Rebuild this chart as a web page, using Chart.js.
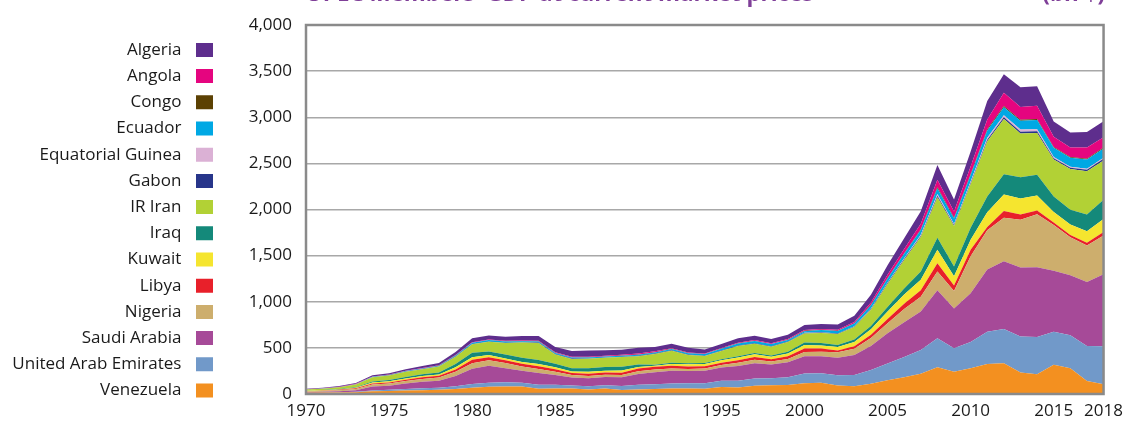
<!DOCTYPE html>
<html>
<head>
<meta charset="utf-8">
<script src="https://cdn.jsdelivr.net/npm/chart.js@4.4.1/dist/chart.umd.min.js"></script>
<style>
  html, body { margin: 0; padding: 0; background: #ffffff; overflow: hidden; }
  #wrap { position: relative; width: 1130px; height: 426px; overflow: hidden; }
  #c { position: absolute; left: 0; top: 0; }
  .ttl { position: absolute; top: -18px; font-family: 'Open Sans', sans-serif; font-weight: 700; font-size: 22.4px; line-height: 22px; color: #7f3f98; white-space: nowrap; }
</style>
</head>
<body>
<div id="wrap">
  <canvas id="c" width="1130" height="426"></canvas>
  <div class="ttl" style="left:305px;">OPEC Members' GDP at current market prices</div>
  <div class="ttl" style="right:25px;">(bn $)</div>
</div>
<script>
const years = [];
for (let y = 1970; y <= 2018; y++) years.push(String(y));

const yTicks = [0, 500, 1000, 1500, 2000, 2500, 3000, 3500, 4000];

// values in bn $, 1970..2018
const venezuela = [13.5,15,16,20,29,32,37,42,47,55, 69,78,80,80,58,60,60,49,60,44, 49,53,60,60,58,77,70,89,96,98, 117,123,93,83,112,150,181,220,289,242, 280,325,333,232,215,318,278,140,105];
const uae = [1,1.5,2.5,4,10,13,16,20,22,30, 40,45,47,43,42,41,33,36,36,42, 51,52,54,56,59,66,74,79,76,84, 104,103,110,124,148,180,220,258,315,254, 285,350,372,390,402,358,360,380,412];
const saudiArabia = [5.4,7,12,18,43,45,60,70,75,111, 165,182,153,129,127,104,87,86,88,95, 117,132,137,133,135,143,159,166,147,162, 189,184,190,216,259,328,376,416,520,430, 528,675,735,748,756,660,650,695,780];
const nigeria = [7,8,10,13,20,24,27,30,36,45, 60,60,55,45,45,35,25,24,24,25, 30,28,25,22,24,28,35,36,32,35, 46,48,59,68,88,110,145,160,205,190, 400,425,470,520,575,495,410,395,420];
const libya = [4,4.5,5,7,11,12,15,19,17,25, 36,33,30,30,30,28,22,24,24,25, 29,30,30,27,25,25,28,30,27,30, 38,34,20,26,35,45,56,70,87,60, 70,35,75,55,40,27,25,30,40];
const kuwait = [3,3.5,4,5,12,12,13,14,15,24, 28,25,21,21,22,21,18,22,20,24, 18,11,20,24,25,27,31,30,25,30, 38,35,38,48,60,80,100,115,147,100, 110,160,178,175,165,114,115,125,140];
const iraq = [3,3.5,4.5,6,11,13,15,18,20,35, 50,38,42,45,45,40,35,38,40,40, 25,12,12,10,10,10,12,15,15,20, 25,25,20,25,36,50,65,88,130,105, 130,170,218,230,225,170,160,180,210];
const iran = [11,14,20,30,45,50,58,55,65,80, 90,105,125,165,185,100,100,103,100,105, 90,115,130,90,75,90,110,100,95,105, 100,110,120,135,175,250,310,375,440,440, 470,600,600,475,450,400,440,470,425];
const gabon = [0.4,0.5,0.6,0.8,1.5,1.6,2.1,2.5,2.5,3.5, 4.3,4,3.8,3.5,3.5,3.5,3.5,3.3,3.5,4.2, 5.9,5.4,5.6,5.4,4,4.9,5.4,5,4.7,4.6, 5,5,5,6,8,9,10,12,16,12, 14,17,18,19,20,14,14,15,17];
const equatorialGuinea = [0.1,0.1,0.1,0.1,0.1,0.1,0.1,0.1,0.1,0.1, 0.1,0.1,0.1,0.1,0.1,0.1,0.1,0.1,0.1,0.1, 0.1,0.1,0.1,0.1,0.1,0.2,0.3,0.5,0.5,0.8, 1.3,2,2,3,5,8,9,12,20,10, 16,21,22,23,22,13,11,12,13];
const ecuador = [1.5,1.6,2,2.5,3.5,4.3,5,6,7,9.5, 12,14,13,11,11,12,11,10,10,10, 11,12,13,15,18,20,22,24,23,17, 18,24,25,29,36,41,47,51,62,60, 70,79,88,95,100,100,98,100,100];
const congo = [0.3,0.35,0.4,0.5,0.7,0.8,0.8,0.9,1,1.2, 1.7,2,2,2,2,2,2.1,2.3,2.2,2.3, 2.8,2.8,3,2.5,1.8,2,2.6,2.3,1.9,2.4, 3,3,3,3.5,5,6,8,8,12,10, 12,14,12,11,10,9,8,9,10];
const angola = [2,2.3,2.5,3,3,3,3,3,3.5,4, 5,5,5,5,6,6,6,7,8,9, 10,10,6,6,5,6,7,7.7,6,6.5, 9,9,11,14,24,36,45,60,80,65, 82,104,145,137,145,110,102,120,110];
const algeria = [5,5.5,7,9,13,15,17,22,26,33, 42,44,45,48,53,58,63,66,59,55, 62,46,48,50,43,42,47,48,48,48, 55,55,57,68,85,103,117,135,160,130, 161,200,200,215,210,166,165,170,175];

// stacking order: bottom first
const seriesNames = ['Venezuela','United Arab Emirates','Saudi Arabia','Nigeria','Libya','Kuwait','Iraq','IR Iran','Gabon','Equatorial Guinea','Ecuador','Congo','Angola','Algeria'];
const seriesValues = [venezuela, uae, saudiArabia, nigeria, libya, kuwait, iraq, iran, gabon, equatorialGuinea, ecuador, congo, angola, algeria];
const seriesColors = ['#f39020','#7199c9','#a64a98','#cdae6d','#e8202a','#f5e52f','#14897a','#b2d135','#27358a','#dbb1d5','#00a8e4','#5c4103','#e5057f','#5e2e8d'];

const FONT = "'Open Sans', sans-serif";
const FS = 17;
const SUFFIX = ' \u200A';

// measure widest legend label to place legend boxes
const mctx = document.createElement('canvas').getContext('2d');
mctx.font = FS + 'px ' + FONT;
let maxW = 0;
seriesNames.forEach(n => { maxW = Math.max(maxW, mctx.measureText(n + SUFFIX).width); });
const BOXW = 17, BOXH = 14, LPAD = 9.2;
const PAD_L = Math.max(0, 213 - (BOXW + FS / 2 + maxW + 10));

const datasets = seriesNames.map((name, i) => ({
  label: name,
  data: seriesValues[i],
  backgroundColor: seriesColors[i],
  borderColor: seriesColors[i],
  borderWidth: 0,
  pointRadius: 0,
  pointHoverRadius: 0,
  tension: 0,
  fill: i === 0 ? 'origin' : '-1'
}));

const framePlugin = {
  id: 'frame',
  afterDatasetsDraw(chart) {
    const a = chart.chartArea, ctx = chart.ctx;
    ctx.save();
    ctx.strokeStyle = '#8a8a8a';
    ctx.lineWidth = 2.5;
    ctx.strokeRect(a.left, a.top, a.right - a.left, a.bottom - a.top);
    ctx.restore();
  }
};

Chart.defaults.font.family = FONT;
Chart.defaults.color = '#1a1a1a';

new Chart(document.getElementById('c'), {
  type: 'line',
  data: { labels: years, datasets },
  plugins: [framePlugin],
  options: {
    responsive: false,
    animation: false,
    devicePixelRatio: 1,
    locale: 'en-US',
    layout: { padding: { left: PAD_L, right: 23, top: 25, bottom: 0 } },
    interaction: { mode: 'index', intersect: false },
    plugins: {
      tooltip: { enabled: false },
      title: { display: false },
      legend: {
        position: 'left',
        align: 'start',
        reverse: true,
        rtl: true,
        title: { display: true, text: '', padding: 0, font: { size: 6, lineHeight: 1.2 } },
        labels: {
          font: { size: FS, family: FONT },
          color: '#1a1a1a',
          boxWidth: BOXW,
          boxHeight: BOXH,
          padding: LPAD,
          generateLabels(chart) {
            const items = Chart.defaults.plugins.legend.labels.generateLabels(chart);
            items.forEach(it => { it.text = it.text + SUFFIX; it.lineWidth = 0; it.strokeStyle = it.fillStyle; });
            return items;
          }
        }
      }
    },
    scales: {
      x: {
        type: 'category',
        offset: false,
        grid: { display: false, drawTicks: false },
        border: { display: false },
        afterFit(scale) { scale.height = 32; },
        ticks: {
          autoSkip: false,
          maxRotation: 0,
          minRotation: 0,
          padding: 7,
          font: { size: FS, family: FONT },
          color: '#1a1a1a',
          callback(value, index) {
            const yr = parseInt(years[index], 10);
            return (yr % 5 === 0 || yr === 2018) ? years[index] : '';
          }
        }
      },
      y: {
        stacked: true,
        min: yTicks[0],
        max: yTicks[yTicks.length - 1],
        afterBuildTicks(scale) { scale.ticks = yTicks.map(v => ({ value: v })); },
        afterFit(scale) {
          const lw = scale.chart.legend ? scale.chart.legend.width : 0;
          scale.width = 306 - PAD_L - lw;
        },
        grid: { color: '#a8a8a8', lineWidth: 1.5, drawTicks: false },
        border: { display: false },
        ticks: {
          padding: 14,
          font: { size: FS, family: FONT },
          color: '#1a1a1a'
        }
      }
    }
  }
});
</script>
</body>
</html>
